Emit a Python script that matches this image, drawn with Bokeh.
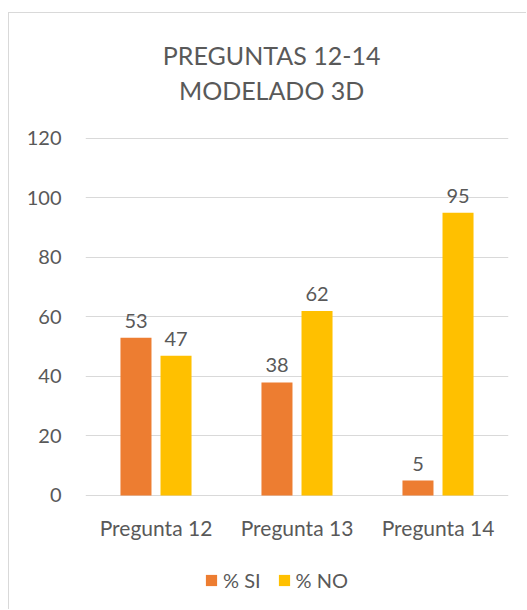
from bokeh.plotting import figure
from bokeh.models import ColumnDataSource, Label, Legend, LegendItem, FactorRange, Range1d
from bokeh.transform import dodge
from bokeh.core.properties import value
from bokeh.embed import file_html
from bokeh.resources import INLINE

categories = ["Pregunta 12", "Pregunta 13", "Pregunta 14"]
si_values = [53, 38, 5]
no_values = [47, 62, 95]
y_ticks = [0, 20, 40, 60, 80, 100, 120]
title_lines = ["PREGUNTAS 12-14", "MODELADO 3D"]
series_names = ["% SI", "% NO"]

FONT = "Lato"
TXT = "#595959"
ORANGE = "#ED7D31"
GOLD = "#FFC000"
GRID = "#d9d9d9"
FS = "20px"

src = ColumnDataSource(dict(cat=categories, si=si_values, no=no_values,
                            si_lbl=[str(v) for v in si_values],
                            no_lbl=[str(v) for v in no_values],
                            base=[0] * len(categories)))

# y range extends beyond 0..120 so title, category labels and legend sit inside the frame
p = figure(x_range=FactorRange(*categories, range_padding=0), y_range=Range1d(-38.66, 162.0),
           width=518, height=597, output_backend="svg", toolbar_location=None,
           min_border_left=76, min_border_right=19, min_border_top=0, min_border_bottom=0)
p.styles = {"border-top": f"1px solid {GRID}", "border-left": f"1px solid {GRID}",
            "margin-top": "12px", "margin-left": "8px"}
p.outline_line_color = None

r_si = p.vbar(x=dodge("cat", -0.142, range=p.x_range), top="si", width=0.22, source=src,
              fill_color=ORANGE, line_color=None)
r_no = p.vbar(x=dodge("cat", 0.142, range=p.x_range), top="no", width=0.22, source=src,
              fill_color=GOLD, line_color=None)

for col, lbl, off in (("si", "si_lbl", -0.142), ("no", "no_lbl", 0.142)):
    p.text(x=dodge("cat", off, range=p.x_range), y=col, text=lbl, source=src,
           text_align="center", text_baseline="alphabetic", y_offset=-17,
           text_font=value(FONT), text_font_size=FS, text_color=TXT)

# category labels just below the zero line
p.text(x="cat", y="base", text="cat", source=src, text_align="center",
       text_baseline="middle", y_offset=32,
       text_font=value(FONT), text_font_size="21px", text_color=TXT)

p.xaxis.visible = False
p.xgrid.grid_line_color = None
p.ygrid.grid_line_color = GRID
p.ygrid.ticker = y_ticks
p.yaxis.ticker = y_ticks
p.yaxis.axis_line_color = None
p.yaxis.major_tick_line_color = None
p.yaxis.minor_tick_line_color = None
p.yaxis.major_label_standoff = 18
p.yaxis.major_label_text_font = FONT
p.yaxis.major_label_text_font_size = FS
p.yaxis.major_label_text_color = TXT

for t, yy in zip(title_lines, (147.9, 136.4)):
    p.add_layout(Label(x=1.32, y=yy, text=t, text_align="center", text_baseline="middle",
                       text_font=FONT, text_font_size="25px", text_color=TXT))

legend = Legend(items=[LegendItem(label=series_names[0], renderers=[r_si]),
                       LegendItem(label=series_names[1], renderers=[r_no])],
                orientation="horizontal", location=(119, 18),
                glyph_width=14, glyph_height=14, label_standoff=5, spacing=16,
                padding=0, margin=0, border_line_color=None, background_fill_alpha=0,
                label_text_font=FONT, label_text_font_size=FS, label_text_color=TXT)
p.add_layout(legend, "center")

open("out.html", "w").write(file_html(p, INLINE))
